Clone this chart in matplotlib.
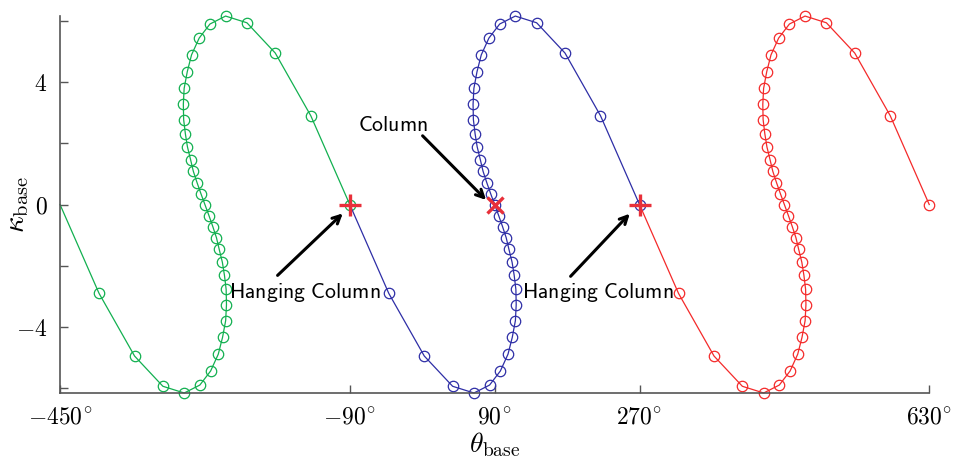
import matplotlib
matplotlib.use("Agg")
import matplotlib.pyplot as plt
import numpy as np

plt.rcParams["mathtext.fontset"] = "cm"
plt.rcParams["font.family"] = "serif"

# shape of one period (theta relative to its centre, kappa)
d_theta = [-180, -131.5, -87.4, -52.2, -25.7, -6.3, 7.1, 16.6, 21.9, 25.8, 26.8, 26.4,
           24.3, 21.7, 17.8, 14.4, 9.8, 5.0, 0.0, -5.0, -9.8, -14.4, -17.8, -21.7,
           -24.3, -26.4, -26.8, -25.8, -21.9, -16.6, -7.1, 6.3, 25.7, 52.2, 87.4, 131.5, 180]
kappa = [0.0, -2.91, -4.96, -5.95, -6.17, -5.91, -5.45, -4.90, -4.35, -3.80, -3.28, -2.78,
         -2.32, -1.89, -1.47, -1.09, -0.72, -0.36, 0.0, 0.36, 0.72, 1.09, 1.47, 1.89,
         2.32, 2.78, 3.28, 3.80, 4.35, 4.90, 5.45, 5.91, 6.17, 5.95, 4.96, 2.91, 0.0]
centres = [-270, 90, 450]
colors = ["#12b050", "#2e2ea6", "#f42a2a"]

hanging_theta = [-90, 270]
column_theta = [90]
xticks = [-450, -90, 90, 270, 630]

fig = plt.figure(figsize=(9.56, 4.59), dpi=100)
ax = fig.add_axes([0.0628, 0.1438, 0.9092, 0.8212])

for c, col in zip(centres, colors):
    th = np.array(d_theta) + c
    ax.plot(th, kappa, "-", color=col, lw=0.9, marker="o", ms=7.5, mfc="none",
            mec=col, mew=0.9, markevery=slice(1, None), clip_on=False)

ax.plot(hanging_theta, [0, 0], "+", color="#e8303a", ms=16, mew=2.4, ls="none", zorder=5)
ax.plot(column_theta, [0], "x", color="#e8303a", ms=12, mew=2.4, ls="none", zorder=5)

sf = dict(fontsize=15.7, color="black")
arrow = dict(arrowstyle="->", lw=2.2, color="black", shrinkA=0, shrinkB=0,
             mutation_scale=14)
ax.annotate("", xy=(-98.7, -0.29), xytext=(-179.7, -2.32), arrowprops=arrow)
ax.text(-239.5, -2.87, r"$\mathsf{Hanging\ Column}$", ha="left", va="center", **sf)
ax.annotate("", xy=(79.4, 0.15), xytext=(0.5, 2.25), arrowprops=arrow)
ax.text(-36.4, 2.6, r"$\mathsf{Column}$", ha="center", va="center", **sf)
ax.annotate("", xy=(257.9, -0.30), xytext=(184.4, -2.35), arrowprops=arrow)
ax.text(123.8, -2.87, r"$\mathsf{Hanging\ Column}$", ha="left", va="center", **sf)

ax.set_xlim(-450, 630)
ax.set_ylim(-6.17, 6.17)
ax.set_xticks(xticks)
ax.set_xticklabels([r"$%d^{\!\circ}$" % t if t >= 0 else r"$-%d^{\!\circ}$" % -t for t in xticks])
ax.set_yticks([-6, -4, -2, 0, 2, 4, 6])
ax.set_yticklabels(["", r"$-4$", "", r"$0$", "", r"$4$", ""])
ax.tick_params(direction="in", length=6, width=1, color="#555555", labelsize=17, pad=9)
for s in ["top", "right"]:
    ax.spines[s].set_visible(False)
for s in ["left", "bottom"]:
    ax.spines[s].set_color("#555555")
    ax.spines[s].set_linewidth(1.2)

ax.set_xlabel(r"$\theta_{\mathrm{base}}$", fontsize=20)
ax.set_ylabel(r"$\kappa_{\mathrm{base}}$", fontsize=21)
ax.xaxis.set_label_coords(0.5, -0.1)
ax.yaxis.set_label_coords(-0.033, 0.5)

fig.savefig("out.png", dpi=100)
